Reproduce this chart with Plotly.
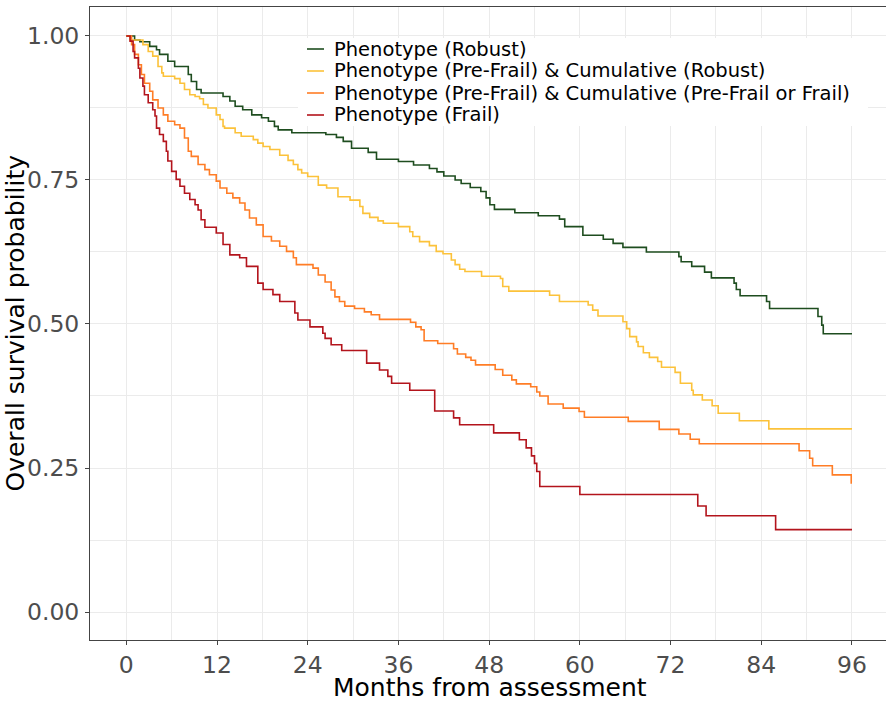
import plotly.graph_objects as go

# ---- data (months, survival probability after each step) ----
robust_t = [0, 1.1, 1.8, 3.1, 4.0, 4.4, 5.5, 6.4, 8.2, 8.6, 9.3, 9.9, 12.8, 13.7, 14.4, 15.4, 16.6,
            17.9, 18.8, 19.6, 20.1, 21.9, 26.4, 27.8, 28.7, 29.8, 32.0, 33.1, 36.0, 38.0, 40.1, 41.1,
            42.0, 43.5, 44.3, 45.5, 46.9, 47.6, 48.1, 48.7, 51.4, 54.5, 57.3, 58.0, 60.4, 63.1, 64.4,
            65.7, 68.8, 73.1, 73.4, 74.8, 76.5, 77.4, 80.4, 80.7, 81.2, 84.7, 85.1, 91.5, 92.0, 92.2, 96.0]
robust_s = [1.0, 0.993, 0.990, 0.982, 0.976, 0.968, 0.956, 0.947, 0.933, 0.921, 0.907, 0.901, 0.895,
            0.887, 0.878, 0.872, 0.863, 0.858, 0.852, 0.843, 0.837, 0.832, 0.829, 0.824, 0.817, 0.805,
            0.798, 0.786, 0.782, 0.776, 0.770, 0.764, 0.757, 0.750, 0.744, 0.737, 0.730, 0.719, 0.707,
            0.699, 0.693, 0.688, 0.682, 0.669, 0.654, 0.647, 0.640, 0.633, 0.625, 0.617, 0.608, 0.600,
            0.590, 0.580, 0.571, 0.560, 0.549, 0.539, 0.527, 0.513, 0.498, 0.483, 0.483]

prefrail_robust_t = [0, 0.5, 2.2, 2.9, 3.5, 4.2, 4.7, 4.9, 6.4, 7.1, 7.7, 8.4, 9.1, 9.7, 10.2, 10.8,
                     11.9, 12.4, 12.8, 13.0, 14.4, 15.2, 16.8, 17.4, 18.1, 19.0, 20.3, 21.4, 22.1, 22.7,
                     23.2, 24.0, 25.4, 26.5, 28.0, 29.6, 30.9, 31.3, 32.2, 33.3, 34.0, 36.0, 37.5, 37.9,
                     38.8, 40.1, 41.0, 41.9, 43.0, 43.5, 44.1, 44.8, 47.0, 49.5, 49.8, 50.6, 56.0, 57.3,
                     61.1, 61.7, 62.4, 65.7, 66.2, 66.6, 67.5, 67.7, 68.4, 69.2, 70.3, 70.8, 72.6, 73.3,
                     74.8, 75.0, 76.2, 77.5, 78.3, 81.1, 85.0, 96.0]
prefrail_robust_s = [1.0, 0.993, 0.985, 0.973, 0.965, 0.947, 0.936, 0.930, 0.926, 0.918, 0.907, 0.898,
                     0.895, 0.891, 0.881, 0.875, 0.863, 0.855, 0.843, 0.840, 0.832, 0.826, 0.820, 0.814,
                     0.808, 0.803, 0.793, 0.784, 0.777, 0.768, 0.762, 0.756, 0.741, 0.736, 0.721, 0.715,
                     0.704, 0.692, 0.685, 0.679, 0.675, 0.669, 0.660, 0.652, 0.643, 0.636, 0.626, 0.622,
                     0.611, 0.603, 0.595, 0.591, 0.583, 0.579, 0.565, 0.557, 0.550, 0.539, 0.533, 0.524,
                     0.514, 0.504, 0.492, 0.478, 0.469, 0.461, 0.450, 0.442, 0.435, 0.425, 0.416, 0.397,
                     0.385, 0.377, 0.368, 0.358, 0.345, 0.332, 0.318, 0.318]

prefrail_frail_t = [0, 0.7, 1.1, 1.6, 2.0, 2.4, 3.1, 3.5, 4.2, 4.9, 5.5, 6.4, 7.1, 7.7, 8.2, 8.6, 9.5,
                    10.4, 11.0, 11.9, 12.4, 13.3, 14.1, 15.0, 15.7, 16.3, 17.2, 18.1, 19.2, 20.3, 21.2,
                    22.1, 22.5, 24.7, 25.4, 26.3, 27.1, 27.6, 28.2, 28.9, 30.2, 31.5, 32.4, 33.5, 37.6,
                    38.3, 39.0, 39.4, 41.2, 43.3, 43.8, 44.9, 45.6, 46.2, 48.8, 49.8, 51.0, 51.6, 53.5,
                    54.3, 54.7, 55.8, 57.8, 59.9, 60.6, 66.4, 70.5, 73.1, 74.6, 75.8, 89.0, 90.4, 90.8,
                    93.4, 95.9, 96.0]
prefrail_frail_s = [1.0, 0.985, 0.968, 0.950, 0.933, 0.918, 0.904, 0.889, 0.875, 0.863, 0.852, 0.846,
                    0.840, 0.823, 0.800, 0.791, 0.777, 0.768, 0.759, 0.748, 0.736, 0.727, 0.719, 0.710,
                    0.698, 0.684, 0.672, 0.652, 0.644, 0.635, 0.626, 0.615, 0.603, 0.597, 0.585, 0.573,
                    0.559, 0.547, 0.539, 0.531, 0.527, 0.521, 0.516, 0.508, 0.503, 0.495, 0.490, 0.471,
                    0.466, 0.457, 0.448, 0.442, 0.437, 0.429, 0.421, 0.411, 0.403, 0.396, 0.391, 0.382,
                    0.375, 0.361, 0.354, 0.348, 0.338, 0.331, 0.317, 0.309, 0.300, 0.292, 0.280, 0.267,
                    0.254, 0.238, 0.224, 0.224]

frail_t = [0, 0.5, 0.9, 1.1, 1.6, 1.8, 2.2, 2.4, 2.9, 3.5, 3.8, 4.0, 4.4, 4.9, 5.3, 5.5, 6.0, 6.6, 7.1,
           7.7, 8.4, 9.1, 9.5, 9.9, 10.4, 11.9, 12.8, 13.7, 15.0, 15.9, 17.4, 18.1, 19.4, 20.3, 22.3,
           22.7, 24.3, 26.0, 26.3, 27.1, 28.5, 31.8, 33.5, 34.6, 35.1, 37.5, 40.8, 43.3, 44.1, 48.6,
           52.0, 52.9, 53.6, 54.0, 54.3, 54.7, 60.0, 75.6, 76.7, 85.9, 96.0]
frail_s = [1.0, 0.991, 0.973, 0.962, 0.944, 0.927, 0.913, 0.898, 0.884, 0.872, 0.861, 0.840, 0.829,
           0.817, 0.800, 0.783, 0.765, 0.751, 0.739, 0.727, 0.716, 0.707, 0.698, 0.681, 0.668, 0.658,
           0.638, 0.620, 0.615, 0.600, 0.571, 0.560, 0.551, 0.539, 0.519, 0.507, 0.495, 0.484, 0.475,
           0.464, 0.454, 0.432, 0.420, 0.409, 0.397, 0.385, 0.349, 0.337, 0.325, 0.311, 0.299, 0.285,
           0.271, 0.258, 0.244, 0.218, 0.204, 0.184, 0.167, 0.143, 0.143]

series_names = ["Phenotype (Robust)",
                "Phenotype (Pre-Frail) & Cumulative (Robust)",
                "Phenotype (Pre-Frail) & Cumulative (Pre-Frail or Frail)",
                "Phenotype (Frail)"]
series_t = [robust_t, prefrail_robust_t, prefrail_frail_t, frail_t]
series_s = [robust_s, prefrail_robust_s, prefrail_frail_s, frail_s]
series_colors = ["#1e4d1f", "#fcc23a", "#ff7d26", "#b3141c"]

x_ticks = [0, 12, 24, 36, 48, 60, 72, 84, 96]
y_ticks = [0, 0.25, 0.5, 0.75, 1.0]

FONT = "DejaVu Sans"
W, H = 886, 702
ML, MR, MT, MB = 90, 0, 7, 62
PW, PH = W - ML - MR, H - MT - MB


def px_x(p):  # pixel -> paper x
    return (p - ML) / PW


def px_y(p):  # pixel -> paper y
    return (H - MB - p) / PH


fig = go.Figure()
for name, t, s, c in zip(series_names, series_t, series_s, series_colors):
    fig.add_trace(go.Scatter(x=t, y=s, mode="lines", name=name, showlegend=False,
                             line=dict(color=c, width=1.6, shape="hv")))

# legend drawn inside the panel (ggplot-style, compact rows)
shapes = [dict(type="rect", xref="paper", yref="paper", layer="above",
               x0=px_x(298), x1=px_x(868), y0=px_y(126), y1=px_y(38),
               fillcolor="white", line=dict(width=0))]
annotations = []
row_y = [49, 71, 93, 115]
for name, c, ry in zip(series_names, series_colors, row_y):
    shapes.append(dict(type="line", xref="paper", yref="paper", layer="above",
                       x0=px_x(307), x1=px_x(324), y0=px_y(ry), y1=px_y(ry),
                       line=dict(color=c, width=1.6)))
    annotations.append(dict(text=name, xref="paper", yref="paper", x=px_x(332), y=px_y(ry),
                            xanchor="left", yanchor="middle", showarrow=False,
                            font=dict(size=19.5, color="black", family=FONT)))

annotations.append(dict(text="Months from assessment", xref="paper", yref="paper",
                        x=px_x(490), y=px_y(688), xanchor="center", yanchor="middle",
                        showarrow=False, font=dict(size=25, color="black", family=FONT)))
annotations.append(dict(text="Overall survival probability", xref="paper", yref="paper",
                        x=px_x(15), y=px_y(323.5), xanchor="center", yanchor="middle",
                        textangle=-90, showarrow=False,
                        font=dict(size=25, color="black", family=FONT)))

grid = "#ebebeb"
fig.update_layout(
    width=W, height=H,
    margin=dict(l=ML, r=MR, t=MT, b=MB),
    paper_bgcolor="white", plot_bgcolor="white",
    font=dict(family=FONT, color="black"),
    showlegend=False,
    shapes=shapes,
    annotations=annotations,
    xaxis=dict(range=[-4.8, 100.5], tickvals=x_ticks, ticktext=[str(v) for v in x_ticks],
               showgrid=True, gridcolor=grid, gridwidth=1.2,
               minor=dict(dtick=6, tick0=0, showgrid=True, gridcolor=grid, gridwidth=0.6),
               showline=True, linecolor="#444444", linewidth=1, mirror=True,
               ticks="outside", ticklen=4, tickcolor="#444444",
               tickfont=dict(size=23.5, color="#4d4d4d", family=FONT),
               zeroline=False),
    yaxis=dict(range=[-0.0486, 1.0503], tickvals=y_ticks, tickformat=".2f",
               showgrid=True, gridcolor=grid, gridwidth=1.2,
               minor=dict(dtick=0.125, tick0=0, showgrid=True, gridcolor=grid, gridwidth=0.6),
               showline=True, linecolor="#444444", linewidth=1,
               ticks="outside", ticklen=4, tickcolor="#444444", ticklabelstandoff=1,
               tickfont=dict(size=23.5, color="#4d4d4d", family=FONT),
               zeroline=False),
)

fig.write_html("out.html")
